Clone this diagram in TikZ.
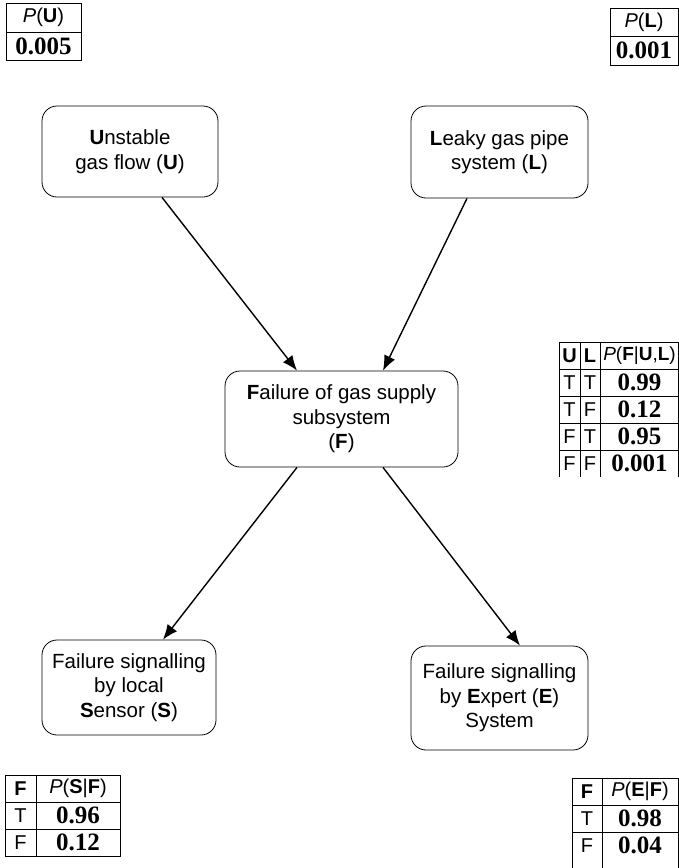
\documentclass[tikz,border=0pt]{standalone}
\usepackage{fontspec}
\setmainfont{Liberation Sans}
\newfontfamily\numfont{Liberation Serif}
\usetikzlibrary{arrows.meta,calc}
\tikzset{
  box/.style={draw, rounded corners=15pt, line width=0.8pt, align=center,
    font=\fontsize{20.5}{24.5}\selectfont, inner sep=0pt},
  conn/.style={line width=1.4pt, -{Latex[length=15pt,width=12pt]}},
  tline/.style={line width=0.8pt},
  hd/.style={font=\fontsize{20}{22}\selectfont, inner sep=0pt},
  val/.style={font=\numfont\bfseries\fontsize{25}{26}\selectfont, inner sep=0pt},
}
\begin{document}
\begin{tikzpicture}[x=1pt,y=-1pt]
\useasboundingbox (0,0) rectangle (679,868);
% nodes
\node[box, minimum width=176pt, minimum height=91pt] (U) at (130,151.5) {\textbf{U}nstable\\gas flow (\textbf{U})};
\node[box, minimum width=177pt, minimum height=92pt] (L) at (499.5,152) {\textbf{L}eaky gas pipe\\system (\textbf{L})};
\node[box, minimum width=233pt, minimum height=96pt] (F) at (341.5,419) {\textbf{F}ailure of gas supply\\subsystem\\(\textbf{F})};
\node[box, minimum width=174pt, minimum height=95pt] (S) at (129,687.5) {Failure signalling\\by local\\\textbf{S}ensor (\textbf{S})};
\node[box, minimum width=177pt, minimum height=104pt] (E) at (499.5,698) {Failure signalling\\by \textbf{E}xpert (\textbf{E})\\System};
% connectors
\draw[conn] ($(U.south)+(32,0)$) -- ($(F.north)+(-44.5,0)$);
\draw[conn] ($(L.south)+(-32.5,0)$) -- ($(F.north)+(41.5,0)$);
\draw[conn] ($(F.south)+(-44.5,0)$) -- ($(S.north)+(34,0)$);
\draw[conn] ($(F.south)+(41.5,0)$) -- ($(E.north)+(20.5,0)$);
% P(U)
\draw[tline] (6,3) rectangle (81,60) (6,32) -- (81,32);
\node[hd] (pu) at (43.5,17.5) {\textit{P}(\textbf{U})};
\node[val] (puv) at (43.5,46) {0.005};
% P(L)
\draw[tline] (610,8) rectangle (678.5,65) (610,36) -- (678.5,36);
\node[hd] (pl) at (644,22) {\textit{P}(\textbf{L})};
\node[val] (plv) at (644,50.5) {0.001};
% P(F|U,L)
\draw[tline] (559,342) -- (678.5,342) (559,369) -- (678.5,369) (559,396) -- (678.5,396)
  (559,423) -- (678.5,423) (559,450) -- (678.5,450);
\draw[tline] (559,342) -- (559,477) (580,342) -- (580,477) (600,342) -- (600,477) (678.5,342) -- (678.5,477);
\node[hd] (fu) at (569.5,355.5) {\textbf{U}};
\node[hd] (fl) at (590,355.5) {\textbf{L}};
\node[hd, font=\fontsize{19}{22}\selectfont] (fp) at (639.5,355.5) {\textit{P}(\textbf{F}|\textbf{U},\textbf{L})};
\node[hd] (f1u) at (569.5,382.5) {T}; \node[hd] (f1l) at (590,382.5) {T}; \node[val] (f1v) at (639.5,382.5) {0.99};
\node[hd] (f2u) at (569.5,409.5) {T}; \node[hd] (f2l) at (590,409.5) {F}; \node[val] (f2v) at (639.5,409.5) {0.12};
\node[hd] (f3u) at (569.5,436.5) {F}; \node[hd] (f3l) at (590,436.5) {T}; \node[val] (f3v) at (639.5,436.5) {0.95};
\node[hd] (f4u) at (569.5,463.5) {F}; \node[hd] (f4l) at (590,463.5) {F}; \node[val] (f4v) at (639.5,463.5) {0.001};
% P(S|F)
\draw[tline] (5,775) rectangle (120,856) (5,802) -- (120,802) (5,829) -- (120,829) (36,775) -- (36,856);
\node[hd] (sf) at (20.5,788.5) {\textbf{F}};
\node[hd] (sp) at (78,788.5) {\textit{P}(\textbf{S}|\textbf{F})};
\node[hd] (s1) at (20.5,815.5) {T}; \node[val] (s1v) at (78,815.5) {0.96};
\node[hd] (s2) at (20.5,842.5) {F}; \node[val] (s2v) at (78,842.5) {0.12};
% P(E|F)
\draw[tline] (572,778) -- (678.5,778) (572,805) -- (678.5,805) (572,832) -- (678.5,832)
  (572,778) -- (572,868) (602,778) -- (602,868) (678.5,778) -- (678.5,868);
\node[hd] (ef) at (587,791.5) {\textbf{F}};
\node[hd] (ep) at (640,791.5) {\textit{P}(\textbf{E}|\textbf{F})};
\node[hd] (e1) at (587,818.5) {T}; \node[val] (e1v) at (640,818.5) {0.98};
\node[hd] (e2) at (587,845.5) {F}; \node[val] (e2v) at (640,845.5) {0.04};
\end{tikzpicture}
\end{document}
